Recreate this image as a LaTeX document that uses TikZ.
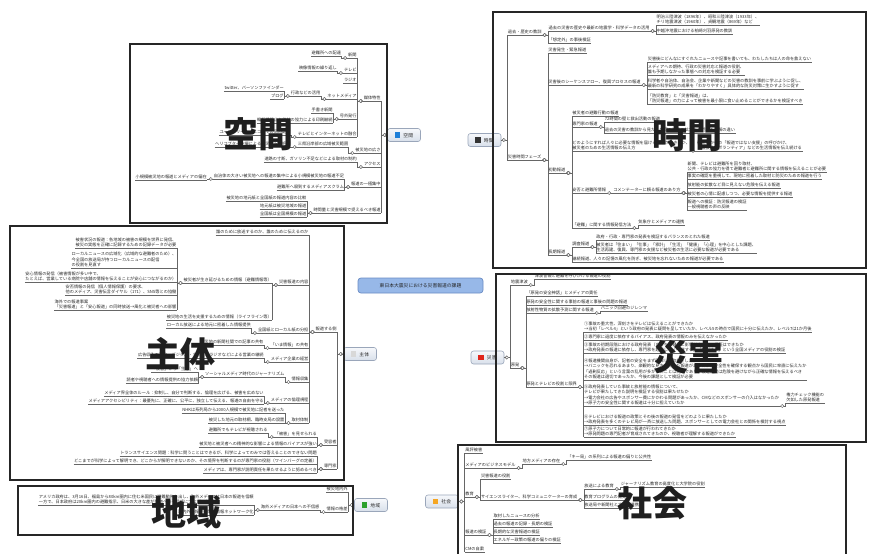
\documentclass[tikz,border=0pt]{standalone}
\usepackage{fontspec}
\setmainfont{Noto Sans CJK JP}
\newfontfamily\cjk{Noto Sans CJK JP}
\usetikzlibrary{calc}
\pgfdeclarelayer{bg}
\pgfsetlayers{bg,main}
\definecolor{lnc}{HTML}{666666}
\definecolor{txt}{HTML}{2A2A2A}
\definecolor{bbd}{HTML}{9AA6BA}
\definecolor{btop}{HTML}{F6F8FB}
\definecolor{bbot}{HTML}{D8DFEA}
\definecolor{mfill}{HTML}{97B8E8}
\definecolor{mdraw}{HTML}{6A8CC4}
\definecolor{icb}{HTML}{1E7FD8}
\definecolor{ick}{HTML}{333333}
\definecolor{icg}{HTML}{D8D8D8}
\definecolor{icr}{HTML}{E0251B}
\definecolor{icgr}{HTML}{2CA02C}
\definecolor{ico}{HTML}{F5A623}
\definecolor{frm}{HTML}{262626}
\newcommand\labfont{\cjk\fontsize{4.2}{5}\selectfont}
\newcommand\labfontm{\cjk\fontsize{4.2}{5.6}\selectfont}
\newcommand\icon[1]{\textcolor{#1}{\rule[-0.5pt]{5.5pt}{5.5pt}}\hspace{3pt}}
% leftward child: [style]{parent anchor}{child}{y}{text}
\newcommand\LK[5][lab]{%
  \coordinate (#3-a) at ([xshift=-6pt]#2);
  \node[#1,anchor=south east] (#3) at (#3-a |- 0,#4) {#5};
  \draw[con] (#2) -- (#3-a) |- (#3.south east);
  \draw[knobp] ([xshift=-2.5pt]#2) circle (1.6pt);}
% rightward child
\newcommand\RK[5][lab]{%
  \coordinate (#3-a) at ([xshift=6pt]#2);
  \node[#1,anchor=south west] (#3) at (#3-a |- 0,#4) {#5};
  \draw[con] (#2) -- (#3-a) |- (#3.south west);
  \draw[knobp] ([xshift=2.5pt]#2) circle (1.6pt);}
\tikzset{
  ul/.style={draw=lnc, line width=0.65pt},
  con/.style={draw=lnc, line width=0.65pt},
  knobp/.style={draw=lnc, fill=white, line width=0.45pt},
  lab/.style={font=\labfont, text=txt, inner xsep=0.4pt, inner ysep=0.5pt,
    text height=3.3pt, text depth=0.7pt,
    append after command={(\tikzlastnode.south west) edge[ul] (\tikzlastnode.south east)}},
  labm/.style={font=\labfontm, text=txt, inner xsep=0.4pt, inner ysep=0.5pt, align=left,
    append after command={(\tikzlastnode.south west) edge[ul] (\tikzlastnode.south east)}},
  branch/.style={rounded corners=2.5pt, draw=bbd, line width=0.6pt, top color=btop,
    bottom color=bbot, minimum width=33pt, minimum height=13pt, inner sep=0pt,
    font=\cjk\fontsize{4.8}{5}\selectfont, text=txt},
  central/.style={rounded corners=3pt, draw=mdraw, line width=0.7pt, fill=mfill,
    minimum width=125pt, minimum height=15pt, inner sep=0pt,
    font=\cjk\fontsize{4.8}{5}\selectfont, text=txt!90!black},
  mainc/.style={draw=lnc, line width=1pt},
  frame/.style={draw=frm, line width=2.3pt},
  big/.style={font=\cjk\bfseries\fontsize{35}{35}\selectfont, text=black!88, inner sep=0pt}
}
\begin{document}
\begin{tikzpicture}[x=1pt,y=-1pt]
\useasboundingbox (0,0) rectangle (870,554);
\clip (0,0) rectangle (870,554);
\fill[white] (0,0) rectangle (870,554);

% central and branch nodes
\node[central] (M) at (420.5,285.5) {東日本大震災における災害報道の課題};
\node[branch] (K) at (404,135) {\icon{icb}空間};
\node[branch] (T) at (484.5,140) {\icon{ick}時間};
\node[branch] (S) at (360,354) {\icon{icg}主体};
\node[branch] (D) at (487.5,357.5) {\icon{icr}災害};
\node[branch] (R) at (371,505) {\icon{icgr}地域};
\node[branch] (C) at (442,501.5) {\icon{ico}社会};

\begin{pgfonlayer}{bg}
\draw[mainc] ([xshift=-4pt]M.north) to[out=90,in=-90] ([xshift=-2pt]K.south east);
\draw[mainc] ([xshift=3pt]M.north) .. controls (424,200) and (440,140) .. (T.west);
\draw[mainc] ([xshift=-8pt]M.south) .. controls (412,330) and (400,354) .. (S.east);
\draw[mainc] ([xshift=-4pt]M.south) .. controls (416,440) and (405,505) .. (R.east);
\draw[mainc] ([xshift=1pt]M.south) .. controls (421,470) and (421,501) .. (C.west);
\draw[mainc] ([xshift=6pt]M.south) .. controls (428,340) and (445,357) .. (D.west);
\end{pgfonlayer}

% ===== 空間 =====
\LK{K.west}{k1}{101}{媒体特性}
\LK{K.west}{k2}{153}{被災地の広さ}
\LK{K.west}{k3}{167}{アクセス}
\LK{K.west}{k4}{187}{報道の一極集中}
\LK{K.west}{k5}{213}{時間量と災害規模で捉えるべき報道}
\LK{k1.south west}{k11}{58}{新聞}
\LK{k1.south west}{k12}{73}{テレビ}
\LK{k1.south west}{k13}{83}{ラジオ}
\LK{k1.south west}{k14}{99}{ネットメディア}
\LK{k1.south west}{k15}{119}{号外発行}
\LK{k1.south west}{k16}{137}{テレビとインターネットの融合}
\LK{k11.south west}{k111}{56}{避難所への配達}
\LK{k12.south west}{k121}{71}{映像情報の繰り返し}
\LK{k14.south west}{k141}{96}{行政などの活用}
\LK{k141.south west}{k1411}{91}{twitter、パーソンファインダー}
\LK{k141.south west}{k1412}{99}{ブログ}
\LK{k15.south west}{k151}{113}{手書き新聞}
\LK{k15.south west}{k152}{123}{輪転機停止と他社の協力による印刷継続}
\LK{k16.south west}{k161}{135}{ユーストリーム、ニコ動での同時配信}
\LK{k2.south west}{k21}{147}{三県沿岸部の広域被災範囲}
\LK{k21.south west}{k211}{147}{ヘリコプター空撮による被災状況の把握}
\LK{k3.south west}{k31}{162}{道路の寸断、ガソリン不足などによる取材の制約}
\LK{k4.south west}{k41}{179}{自治体の大きい被災地への報道の集中による小規模被災地の報道不足}
\LK{k41.south west}{k411}{180}{小規模被災地の報道とメディアの偏在}
\LK{k4.south west}{k42}{190}{避難所へ殺到するメディアスクラム}
\LK{k5.south west}{k51}{201}{被災地の地元紙と全国紙の報道内容の比較}
\LK{k5.south west}{k52}{209}{地元紙は被災地域の報道}
\LK{k5.south west}{k53}{217}{全国紙は全国規模の報道}

% ===== 時間 =====
\RK{T.east}{t1}{35}{過去・歴史の教訓}
\RK{T.east}{t2}{160}{災害時間フェーズ}
\RK{t1.south east}{t11}{31}{過去の災害の歴史や最新の地震学・科学データの活用}
\RK{t1.south east}{t12}{43}{「想定外」の事後検証}
\RK[labm]{t11.south east}{t111}{25}{明治三陸津波（1896年）、昭和三陸津波（1933年）、\\チリ地震津波（1960年）、貞観地震（869年）など}
\RK{t11.south east}{t112}{34}{中越沖地震における柏崎刈羽原発の教訓}
\RK{t2.south east}{t21}{53}{災害発生・緊急報道}
\RK{t2.south east}{t22}{85}{災害後のシーケンスフロー、復興プロセスの報道}
\RK{t2.south east}{t23}{173}{初動報道}
\RK{t2.south east}{t24}{255}{長期報道}
\RK{t22.south east}{t221}{62}{災害後にどんなにすぐれたニュースや記事を書いても、わたしたちは人の命を救えない}
\RK[labm]{t22.south east}{t222}{75}{メディアへの期待、行政の災害対応と報道の役割、\\誰も予期しなかった事態への対応を検証する必要}
\RK[labm]{t22.south east}{t223}{89}{科学者や自治体、自治会、企業や新聞などの災害の教訓を事前に学ぶように促し、\\最新の科学研究の成果を「わかりやすく」具体的な防災対策に生かすように促す}
\RK[labm]{t22.south east}{t224}{104}{「防災教育」と「災害報道」は、\\「防災報道」の力によって被害を最小限に食い止めることができるかを検証すべき}
\RK{t23.south east}{t231}{116}{被災者の避難行動の報道}
\RK{t23.south east}{t232}{127}{専門家の報道}
\RK[labm]{t23.south east}{t233}{151}{どのようにすれば人々に必要な情報を届けることができるか、\\被災者のための生活情報の伝え方}
\RK{t23.south east}{t234}{193}{安否と避難所情報}
\RK{t23.south east}{t235}{228}{「避難」に関する情報発信方法}
\RK{t232.south east}{t2321}{122}{72時間の壁と救出活動の報道}
\RK{t232.south east}{t2322}{133}{過去の災害の教訓から見た、今回の被害の拡大と専門家の見解の違い}
\RK[labm]{t233.south east}{t2331}{151}{被災地からの「報道ではない支援」の呼びかけ、\\「義援金・ボランティア」などの生活情報を伝え続ける}
\RK{t234.south east}{t2341}{193}{コメンテーターに頼る報道のあり方}
\RK[labm]{t2341.south east}{t23411}{172}{新聞、テレビは避難所を回り取材、\\公共・行政の協力を得て避難者と避難所に関する情報を伝えることが必要}
\RK{t2341.south east}{t23412}{179}{事実の確認を重視して、現地に密着した取材と防災のための報道を行う}
\RK{t2341.south east}{t23413}{188}{放射能の拡散など目に見えない危険を伝える報道}
\RK{t2341.south east}{t23414}{197}{被災者の心情に配慮しつつ、必要な情報を提供する報道}
\RK[labm]{t2341.south east}{t23415}{210}{報道への検証：防災報道の検証\\一般視聴者の声の反映}
\RK{t235.south east}{t2351}{225}{気象庁とメディアの連携}
\RK{t24.south east}{t241}{247}{調査報道}
\RK{t24.south east}{t242}{262}{継続報道、人々の記憶の風化を防ぎ、被災地を忘れないための報道が必要である}
\RK{t241.south east}{t2411}{240}{政府・行政・専門家の発表を検証するバランスのとれた報道}
\RK[labm]{t241.south east}{t2412}{253}{被災者は「住まい」「仕事」「家計」「生活」「健康」「心理」を中心とした課題、\\生活再建、復興、専門家の支援など被災者の生活に必要な報道が必要である}

% ===== 主体 =====
\LK{S.west}{s1}{332}{報道する側}
\LK{S.west}{s2}{445}{受容者}
\LK{S.west}{s3}{469}{専門家}
\LK{s1.south west}{s10}{235}{誰のために放送するのか、誰のために伝えるのか}
\LK{s1.south west}{s11}{285}{災害報道の内容}
\LK{s1.south west}{s12}{333}{全国紙とローカル紙の分担}
\LK{s1.south west}{s13}{348}{「いま情報」の共有}
\LK{s1.south west}{s14}{362}{メディア企業の経営}
\LK{s1.south west}{s15}{382}{情報収集}
\LK{s1.south west}{s16}{403}{メディアの倫理規程}
\LK{s1.south west}{s17}{423}{取材体制}
\LK{s11.south west}{s111}{283}{被災者が生き延びるための情報（避難情報等）}
\LK{s11.south west}{s112}{320}{被災地の生活を支援するための情報（ライフライン等）}
\LK[labm]{s111.south west}{s1111}{248}{被害状況の報道：各地域の被害の規模を世界に発信、\\被災の実態を正確に記録するための記録データが必要}
\LK[labm]{s111.south west}{s1112}{268}{ローカルニュースの広域化（広域的な避難者のため）、\\今全国の放送局が持つローカルニュースの配信\\の役割を見直す}
\LK[labm]{s111.south west}{s1113}{282}{安心情報の発信（被害情報が多い中で、\\たとえば、営業している病院や店舗の情報を伝えることが安心につながるのか）}
\LK[labm]{s111.south west}{s1114}{295}{安否情報の発信（個人情報保護）の要求、\\他のメディア、災害伝言ダイヤル（171）、SNS等との協働}
\LK[labm]{s111.south west}{s1115}{310}{海外での報道事案\\「災害報道」と「安心報道」の同時放送→風化と被災者への影響}
\LK{s12.south west}{s121}{328}{ローカル放送による地元に密着した情報提供}
\LK{s13.south west}{s131}{345}{被災地の新聞社間での記事の共有}
\LK{s14.south west}{s141}{358}{広告収入の減少、デジタル・ネット、ラジオなどによる営業の継続}
\LK{s15.south west}{s151}{377}{ソーシャルメディア時代のジャーナリズム}
\LK{s151.south west}{s1511}{372}{「被害」から「生存」へ}
\LK{s151.south west}{s1512}{383}{読者や視聴者への情報提供の協力依頼}
\LK{s16.south west}{s161}{396}{メディア界全体のルール：抑制し、自分で判断する、倫理を広げる、被害を広めない}
\LK{s16.south west}{s162}{404}{メディアアクセシビリティ：最優先に、正確に、公平に、独立して伝える、報道の自由を守る}
\LK{s17.south west}{s171}{413}{NHKは系列局から2000人規模で被災地に記者を送った}
\LK{s17.south west}{s172}{423}{被災した地元の取材網、臨時支局の設置}
\LK{s2.south west}{s21}{437}{「被害」を見せられる}
\LK{s2.south west}{s22}{447}{被災地と被災者への精神的な影響による情報のバイアスが強い}
\LK{s21.south west}{s211}{433}{避難所でもテレビが視聴される}
\LK{s3.south west}{s31}{456}{トランスサイエンス問題：科学に問うことはできるが、科学によってのみでは答えることのできない問題}
\LK{s3.south west}{s32}{464}{どこまでが科学によって解明でき、どこからが解明できないのか、その境界を判断するのが専門家の役割（ワインバーグの定義）}
\LK{s3.south west}{s33}{473}{メディアは、専門家が説明責任を果たせるように努めるべき}

% ===== 地域 =====
\LK{R.west}{r1}{492}{被災地内外}
\LK{R.west}{r2}{512}{情報の格差}
\LK{r2.south west}{r21}{510}{海外メディアの日本への不信感}
\LK[labm]{r21.south west}{r211}{505}{アメリカ政府は、3月16日、福島から80km圏内に住む米国民に避難勧告を出し、海外メディアは日本の報道を信頼\\一方で、日本政府は20km圏内の避難指示、日米の大きな差が報道への不信感につながった}
\LK{r21.south west}{r212}{515}{国内外の報道機関の情報ネットワーク化}

% ===== 災害 =====
\RK{D.east}{d1}{285}{地震津波}
\RK{D.east}{d2}{368}{原発}
\RK{d1.south east}{d11}{279}{津波警報と避難を呼びかける報道の役割}
\RK{d2.south east}{d21}{296}{「原発の安全神話」とメディアの責任}
\RK{d2.south east}{d22}{305}{原発の安全性に関する事前の報道と事後の問題の報道}
\RK{d2.south east}{d23}{313}{放射性物質の拡散予測に関する報道}
\RK{d2.south east}{d24}{387}{原発とテレビの役割と限界}
\RK{d23.south east}{d231}{311}{パニック回避のジレンマ}
\RK[labm]{d24.south east}{d241}{332}{①事故の重大性、深刻さをテレビは伝えることができたか\\→当初「レベル4」という政府の発表に疑問を呈していたか、レベル5の時点で国民に十分に伝えたか、レベル7は1か月後}
\RK{d24.south east}{d242}{340}{②専門家に過度に依存するバイアス、政府発表の情報のみを伝えなかったか}
\RK[labm]{d24.south east}{d243}{353}{③事故の初期段階における政府発表（ただちに健康に影響はない）の検証はできたか\\→政府発表の報道に依存し、専門家を起用して「中継する」「解説する」という全国メディアの役割の検証}
\RK[labm]{d24.south east}{d244}{380}{④報道機関自身が、記者の安全をまず確保して取材をしたか\\→パニックを恐れるあまり、楽観的な見方を流した報道があったか、安全性を確保する観点から国民に率直に伝えたか\\「過剰反応」という言葉の乱用が多かったことは問題であり、報道機関は危険を避けながら正確な情報を伝えるべき\\その報道は適切であったか、今後の課題として検証が必要}
\RK[labm]{d24.south east}{d245}{406}{⑤政府発表していた事故と放射能の情報について、\\テレビが果たしてきた説明を検証する役割は果たせたか\\→電力会社の広告やスポンサー費にかかわる問題があったか、CMなどのスポンサーの介入はなかったか\\→原子力の安全性に関する報道は十分に担えていたか}
\RK[labm]{d245.south east}{d2451}{403}{権力チェック機能の\\欠如した原発報道}
\RK[labm]{d24.south east}{d246}{425}{⑥テレビにおける報道の政策とその後の報道の発信をどのように果たしたか\\→政府発表を多くのテレビ局が一斉に放送した問題、スポンサーとしての電力会社との関係を検討する視点}
\RK[labm]{d24.south east}{d247}{437}{⑦原子力について日常的に報道が行われてきたか\\→原発問題の専門記者が育成されてきたのか、視聴者が理解する報道ができたか}

% ===== 社会 =====
\RK{C.east}{c1}{453}{風評被害}
\RK{C.east}{c2}{468}{メディアのビジネスモデル}
\RK{C.east}{c3}{497}{教育}
\RK{C.east}{c4}{535}{報道の検証}
\RK{C.east}{c5}{552}{CMの自粛}
\RK{c2.south east}{c21}{464}{地方メディアの存在}
\RK{c21.south east}{c211}{460}{「キー局」の系列による報道の偏りと公共性}
\RK{c3.south east}{c31}{479}{災害報道の役割}
\RK{c3.south east}{c32}{500}{サイエンスライター、科学コミュニケーターの育成}
\RK{c32.south east}{c321}{489}{放送による教育}
\RK{c32.south east}{c322}{500}{教育プログラムの開発}
\RK{c32.south east}{c323}{508}{放送局や新聞社と大学の連携}
\RK{c321.south east}{c3211}{487}{ジャーナリズム教育の高度化と大学院の役割}
\RK{c4.south east}{c41}{519}{取材したニュースの分析}
\RK{c4.south east}{c42}{527}{過去の報道の記録・長期の検証}
\RK{c4.south east}{c43}{535}{長期的な災害報道の検証}
\RK{c4.south east}{c44}{543}{エネルギー政策の報道の偏りの検証}

% ===== frames =====
\draw[frame] (130,44) rectangle (387,223);
\draw[frame] (493,12) rectangle (866,268);
\draw[frame] (10,226) rectangle (344,480);
\draw[frame] (18,486) rectangle (353,535);
\draw[frame] (496,274) rectangle (866,442);
\draw[frame] (458,445) rectangle (846,562);

% ===== big labels =====
\node[big] (L1) at (258,134) {空間};
\node[big] (L2) at (687,135) {時間};
\node[big] (L3) at (180,354) {主体};
\node[big] (L4) at (688,357) {災害};
\node[big] (L5) at (186,512) {地域};
\node[big] (L6) at (652,503) {社会};
\end{tikzpicture}
\end{document}
